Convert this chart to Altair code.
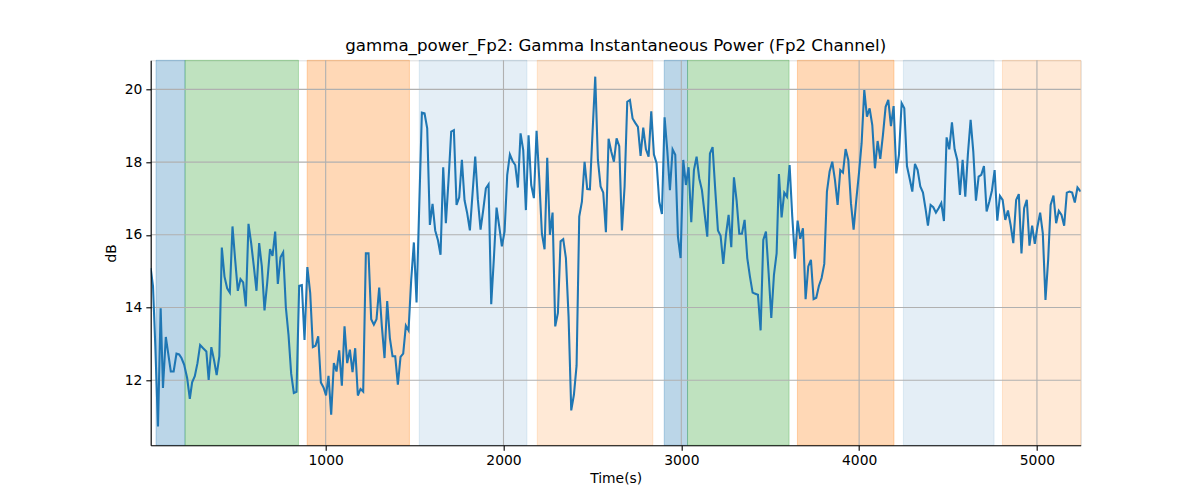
import altair as alt
import pandas as pd

# ---- data ----
time_s = [16, 29, 42, 57, 72, 85, 101, 114, 129, 145, 161, 176, 189, 204, 221, 236, 249, 264, 279, 294,
          311, 329, 342, 357, 372, 387, 402, 416, 431, 446, 461, 476, 491, 506, 521, 536, 551, 566, 581, 596,
          611, 626, 641, 656, 671, 687, 701, 716, 731, 746, 761, 776, 791, 806, 821, 836, 851, 866, 881, 897,
          913, 928, 943, 958, 973, 988, 1002, 1016, 1031, 1046, 1061, 1076, 1091, 1106, 1121, 1136, 1151, 1166, 1181, 1196,
          1211, 1226, 1241, 1256, 1271, 1286, 1301, 1316, 1331, 1346, 1361, 1376, 1391, 1406, 1421, 1436, 1451, 1466, 1481, 1496,
          1511, 1541, 1556, 1571, 1586, 1601, 1616, 1631, 1646, 1661, 1676, 1691, 1706, 1721, 1736, 1751, 1766, 1781, 1796, 1811,
          1826, 1841, 1856, 1871, 1886, 1901, 1916, 1931, 1946, 1961, 1976, 1991, 2006, 2021, 2036, 2051, 2066, 2081, 2096, 2111,
          2126, 2141, 2156, 2171, 2186, 2201, 2216, 2231, 2246, 2261, 2276, 2291, 2306, 2321, 2336, 2351, 2366, 2381, 2396, 2411,
          2426, 2441, 2456, 2471, 2486, 2501, 2516, 2531, 2546, 2561, 2576, 2591, 2606, 2621, 2636, 2651, 2666, 2681, 2696, 2711,
          2726, 2741, 2756, 2771, 2786, 2801, 2816, 2831, 2846, 2861, 2876, 2891, 2906, 2921, 2936, 2951, 2966, 2981, 2996, 3011,
          3026, 3041, 3056, 3071, 3086, 3101, 3116, 3131, 3146, 3161, 3176, 3191, 3206, 3221, 3236, 3251, 3266, 3281, 3296, 3311,
          3326, 3341, 3356, 3371, 3386, 3401, 3416, 3431, 3446, 3461, 3476, 3491, 3506, 3521, 3536, 3549, 3564, 3579, 3594, 3609,
          3624, 3639, 3654, 3669, 3684, 3699, 3714, 3729, 3744, 3759, 3774, 3789, 3804, 3819, 3834, 3849, 3864, 3879, 3894, 3909,
          3924, 3939, 3954, 3969, 3984, 3999, 4014, 4029, 4044, 4059, 4074, 4089, 4104, 4119, 4134, 4149, 4164, 4179, 4194, 4209,
          4224, 4239, 4254, 4269, 4284, 4299, 4314, 4329, 4344, 4359, 4374, 4387, 4402, 4417, 4432, 4447, 4462, 4477, 4492, 4507,
          4522, 4537, 4552, 4567, 4582, 4597, 4612, 4627, 4642, 4657, 4672, 4687, 4702, 4717, 4732, 4747, 4762, 4777, 4792, 4807,
          4822, 4837, 4852, 4867, 4883, 4898, 4913, 4928, 4943, 4958, 4973, 4988, 5003, 5018, 5033, 5048, 5063, 5077, 5093, 5108,
          5123, 5138, 5153, 5168, 5183, 5198, 5213, 5228, 5246]

power_db = [15.08, 14.58, 12.93, 10.73, 13.98, 11.79, 13.19, 12.75, 12.24, 12.24, 12.73, 12.71, 12.61, 12.43, 12.06, 11.49, 11.94, 12.11, 12.47, 12.97,
            12.88, 12.79, 12.01, 12.91, 12.56, 12.14, 12.66, 15.65, 14.85, 14.53, 14.41, 16.23, 15.31, 14.46, 14.78, 14.69, 14.03, 16.30, 15.77, 15.13,
            14.46, 15.77, 15.13, 13.92, 14.67, 15.61, 15.42, 16.09, 14.65, 15.38, 15.52, 14.01, 13.25, 12.18, 11.65, 11.68, 14.60, 14.62, 13.11, 15.11,
            14.40, 12.91, 12.95, 13.21, 11.94, 11.80, 11.58, 12.12, 11.05, 12.47, 12.24, 12.82, 11.85, 13.48, 12.47, 12.84, 12.22, 12.88, 11.58, 11.76,
            11.69, 15.49, 15.49, 13.68, 13.53, 13.68, 14.55, 13.48, 12.61, 14.18, 13.16, 12.66, 12.66, 11.88, 12.64, 12.73, 13.50, 13.37, 14.76, 15.79,
            14.14, 19.36, 19.34, 18.93, 16.27, 16.85, 16.12, 15.86, 15.45, 17.86, 16.32, 17.51, 18.84, 18.88, 16.82, 17.03, 18.06, 16.95, 16.59, 16.12,
            17.14, 18.15, 16.96, 16.14, 16.68, 17.28, 17.39, 14.09, 15.36, 16.75, 16.23, 15.68, 16.09, 17.65, 18.21, 18.03, 17.92, 17.30, 18.79, 18.33,
            16.68, 18.74, 17.37, 17.01, 18.86, 17.55, 16.03, 15.60, 18.12, 16.00, 16.61, 13.48, 13.85, 15.82, 15.88, 15.36, 13.75, 11.17, 11.60, 12.40,
            16.50, 16.91, 18.01, 17.26, 17.25, 18.84, 20.35, 18.06, 17.33, 17.16, 16.07, 18.64, 18.29, 18.01, 18.65, 18.44, 16.12, 17.33, 19.66, 19.71,
            19.20, 19.08, 18.97, 18.17, 18.95, 18.35, 18.15, 19.40, 18.21, 17.97, 16.91, 16.57, 19.23, 18.33, 17.23, 18.35, 18.20, 15.95, 15.36, 18.06,
            17.37, 17.86, 16.35, 17.78, 18.15, 17.55, 17.23, 16.58, 15.95, 18.24, 18.41, 17.23, 16.12, 15.97, 15.20, 16.00, 16.55, 15.66, 17.58, 16.94,
            16.03, 16.03, 16.41, 15.36, 14.85, 14.41, 14.38, 14.35, 13.37, 15.86, 16.09, 14.95, 13.71, 14.90, 15.49, 17.67, 16.48, 17.16, 17.05, 17.92,
            16.50, 15.34, 16.39, 15.89, 16.18, 14.23, 15.13, 15.31, 14.23, 14.27, 14.60, 14.81, 15.20, 17.19, 17.74, 18.01, 17.51, 16.82, 17.78, 17.71,
            18.36, 18.06, 16.87, 16.14, 16.96, 17.69, 18.52, 19.98, 19.25, 19.48, 19.02, 17.83, 18.58, 18.09, 18.75, 19.52, 19.71, 18.99, 19.54, 17.69,
            18.20, 19.62, 19.48, 17.89, 17.55, 17.19, 17.95, 17.78, 17.33, 17.16, 16.70, 16.25, 16.82, 16.76, 16.61, 16.73, 16.87, 16.38, 18.68, 18.35,
            19.09, 18.35, 18.06, 17.10, 18.06, 17.05, 18.24, 19.16, 18.29, 16.94, 17.60, 17.65, 17.89, 16.64, 16.91, 17.22, 17.78, 16.39, 17.07, 16.96,
            16.41, 16.67, 16.27, 15.77, 16.96, 17.12, 15.49, 16.73, 16.96, 15.70, 16.25, 15.75, 16.23, 16.61, 16.04, 14.21, 15.31, 16.82, 17.08, 16.32,
            16.66, 16.55, 16.25, 17.16, 17.19, 17.16, 16.89, 17.30, 17.19]

band_start = [46, 209, 896, 1526, 2190, 2904, 3035, 3653, 4249, 4806]
band_end = [209, 847, 1471, 2132, 2840, 3035, 3606, 4196, 4759, 5246]
band_color = ["#1f77b4", "#2ca02c", "#ff7f0e", "#1f77b4", "#ff7f0e",
              "#1f77b4", "#2ca02c", "#ff7f0e", "#1f77b4", "#ff7f0e"]
band_alpha = [0.3, 0.3, 0.3, 0.12, 0.17, 0.3, 0.3, 0.3, 0.12, 0.17]

x_ticks = [1000, 2000, 3000, 4000, 5000]
y_ticks = [12, 14, 16, 18, 20]

X_DOMAIN = [16, 5246]
Y_DOMAIN = [10.21, 20.80]

FONT = "DejaVu Sans"
LBL = 13.89

line_df = pd.DataFrame({"t": time_s, "v": power_db})
band_df = pd.DataFrame({"s": band_start, "e": band_end, "c": band_color, "a": band_alpha})
xg_df = pd.DataFrame({"t": x_ticks})
yg_df = pd.DataFrame({"v": y_ticks})

xscale = alt.Scale(domain=X_DOMAIN, nice=False, zero=False)
yscale = alt.Scale(domain=Y_DOMAIN, nice=False, zero=False)

x_axis = alt.Axis(values=x_ticks, format="d", title="Time(s)", grid=False, zindex=1,
                  labelFont=FONT, labelFontSize=LBL, labelColor="#000000",
                  titleFont=FONT, titleFontSize=LBL, titleFontWeight="normal", titleColor="#000000",
                  tickColor="#000000", tickSize=4.86, tickWidth=1.11,
                  domainColor="#000000", domainWidth=1.11,
                  labelPadding=3, titlePadding=4, labelFlush=False)
y_axis = alt.Axis(values=y_ticks, format="d", title="dB", grid=False, zindex=1,
                  labelFont=FONT, labelFontSize=LBL, labelColor="#000000",
                  titleFont=FONT, titleFontSize=LBL, titleFontWeight="normal", titleColor="#000000",
                  tickColor="#000000", tickSize=4.86, tickWidth=1.11,
                  domainColor="#000000", domainWidth=1.11,
                  labelPadding=4, titlePadding=6, labelFlush=False)

bands = alt.Chart(band_df).mark_rect(strokeWidth=1).encode(
    x=alt.X("s:Q", scale=xscale, axis=x_axis),
    x2="e:Q",
    y=alt.value(0),
    y2=alt.value(385),
    fill=alt.Fill("c:N", scale=None, legend=None),
    stroke=alt.Stroke("c:N", scale=None, legend=None),
    fillOpacity=alt.FillOpacity("a:Q", scale=None, legend=None),
    strokeOpacity=alt.StrokeOpacity("a:Q", scale=None, legend=None),
)

xgrid = alt.Chart(xg_df).mark_rule(color="#b0b0b0", strokeWidth=1.11).encode(
    x=alt.X("t:Q", scale=xscale, axis=x_axis)
)
ygrid = alt.Chart(yg_df).mark_rule(color="#b0b0b0", strokeWidth=1.11).encode(
    y=alt.Y("v:Q", scale=yscale, axis=y_axis)
)

line = alt.Chart(line_df).mark_line(color="#1f77b4", strokeWidth=2.08, clip=True).encode(
    x=alt.X("t:Q", scale=xscale, axis=x_axis),
    y=alt.Y("v:Q", scale=yscale, axis=y_axis),
)

chart = alt.layer(bands, xgrid, ygrid, line).properties(
    width=930,
    height=385,
    title=alt.TitleParams("gamma_power_Fp2: Gamma Instantaneous Power (Fp2 Channel)",
                          font=FONT, fontSize=16.67, fontWeight="normal", color="#000000",
                          anchor="middle", offset=5),
    autosize=alt.AutoSizeParams(type="none"),
    padding={"left": 142.7, "top": 52.3, "right": 111, "bottom": 47},
).configure_view(stroke="#000000", strokeWidth=1.11).configure(background="#ffffff")

chart.save("out.html", embed_options={"renderer": "svg", "actions": False})
